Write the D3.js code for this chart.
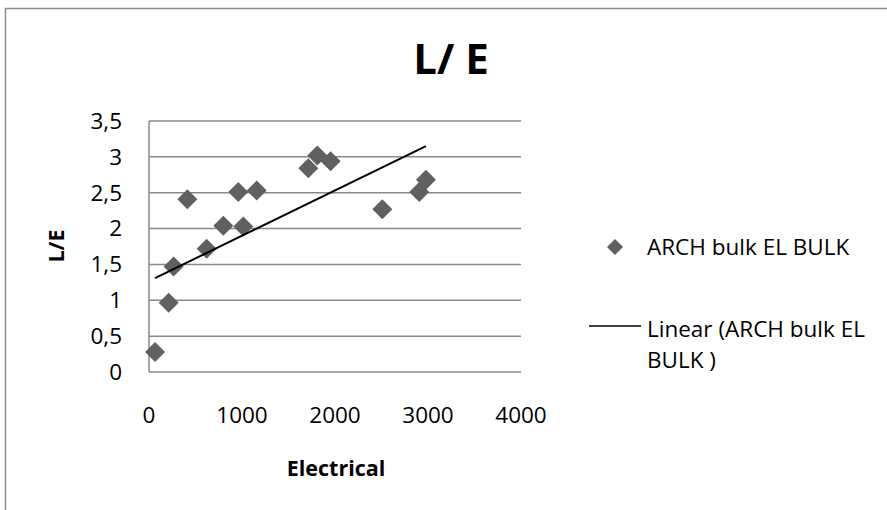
<!DOCTYPE html>
<html>
<head>
<meta charset="utf-8">
<script src="https://cdn.jsdelivr.net/npm/d3@7"></script>
<style>
  html, body { margin: 0; padding: 0; background: #fff; }
  svg { display: block; font-family: "Open Sans", "Noto Sans", sans-serif; }
</style>
</head>
<body>
<svg id="chart" width="887" height="510"></svg>
<script>
// Electrical vs L/E scatter with a linear trend line
const electrical = [65, 212, 265, 412, 620, 799, 960, 1014, 1158, 1713, 1810, 1953, 2509, 2906, 2978];
const ratioLE   = [0.28, 0.965, 1.47, 2.41, 1.72, 2.04, 2.51, 2.03, 2.53, 2.84, 3.02, 2.94, 2.27, 2.51, 2.68];

// Linear trend end points (fitted line)
const trendX = [65, 2978];
const trendY = [1.31, 3.15];

const xTicks = [0, 1000, 2000, 3000, 4000];
const yTicks = [0, 0.5, 1, 1.5, 2, 2.5, 3, 3.5];

const seriesName = "ARCH bulk EL BULK";
const trendName = ["Linear (ARCH bulk EL", "BULK )"];

const svg = d3.select("#chart");

// outer chart frame
svg.append("rect")
  .attr("x", 5.5).attr("y", 8.5)
  .attr("width", 950).attr("height", 600)
  .attr("fill", "#fff").attr("stroke", "#8c8c8c").attr("stroke-width", 1.5);

const x = d3.scaleLinear().domain([0, 4000]).range([149, 521]);
const y = d3.scaleLinear().domain([0, 3.5]).range([372, 121]);

// horizontal gridlines
svg.append("g").selectAll("line").data(yTicks).join("line")
  .attr("x1", x(0)).attr("x2", x(4000))
  .attr("y1", d => y(d)).attr("y2", d => y(d))
  .attr("stroke", "#8a8a8a").attr("stroke-width", 1.5);

// vertical axis line
svg.append("line")
  .attr("x1", x(0)).attr("x2", x(0))
  .attr("y1", y(0)).attr("y2", y(3.5))
  .attr("stroke", "#8a8a8a").attr("stroke-width", 1.5);

const fmt = d => String(d).replace(".", ",");

// y tick labels
svg.append("g").selectAll("text").data(yTicks).join("text")
  .attr("x", 122).attr("y", d => y(d))
  .attr("dy", "0.35em")
  .attr("text-anchor", "end")
  .attr("font-size", 22.5).attr("fill", "#000")
  .text(fmt);

// x tick labels
svg.append("g").selectAll("text").data(xTicks).join("text")
  .attr("x", d => x(d)).attr("y", 415)
  .attr("dy", "0.35em")
  .attr("text-anchor", "middle")
  .attr("font-size", 22.5).attr("fill", "#000")
  .text(d => d);

// axis titles
svg.append("text")
  .attr("x", 336).attr("y", 476)
  .attr("text-anchor", "middle")
  .attr("font-size", 21.5).attr("font-weight", "bold")
  .text("Electrical");

svg.append("text")
  .attr("transform", "translate(64,246) rotate(-90)")
  .attr("text-anchor", "middle")
  .attr("font-size", 21.5).attr("font-weight", "bold")
  .text("L/E");

// chart title
svg.append("text")
  .attr("x", 451).attr("y", 74)
  .attr("text-anchor", "middle")
  .attr("font-size", 42).attr("font-weight", "bold")
  .text("L/ E");

// diamond markers
const diamond = (cx, cy, r) => `M${cx},${cy - r}L${cx + r},${cy}L${cx},${cy + r}L${cx - r},${cy}Z`;

svg.append("g").selectAll("path").data(electrical.map((e, i) => [e, ratioLE[i]])).join("path")
  .attr("d", d => diamond(x(d[0]), y(d[1]), 10))
  .attr("fill", "#606060");

// trend line
svg.append("line")
  .attr("x1", x(trendX[0])).attr("y1", y(trendY[0]))
  .attr("x2", x(trendX[1])).attr("y2", y(trendY[1]))
  .attr("stroke", "#000").attr("stroke-width", 2);

// legend
const lg = svg.append("g");
lg.append("path").attr("d", diamond(615, 247, 8)).attr("fill", "#606060");
lg.append("text").attr("x", 647).attr("y", 255)
  .attr("font-size", 22.5).text(seriesName);
lg.append("line").attr("x1", 589).attr("x2", 641).attr("y1", 326).attr("y2", 326)
  .attr("stroke", "#000").attr("stroke-width", 1.5);
lg.selectAll("text.t").data(trendName).join("text").attr("class", "t")
  .attr("x", 647).attr("y", (d, i) => 337 + i * 31)
  .attr("font-size", 22.5).text(d => d);
</script>
</body>
</html>
